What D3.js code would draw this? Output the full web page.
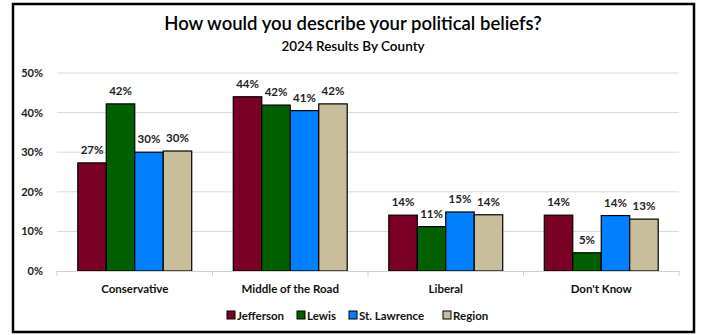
<!DOCTYPE html>
<html><head><meta charset="utf-8">
<script src="https://cdn.jsdelivr.net/npm/d3@7"></script>
<style>body{margin:0;background:#fff}svg{display:block}text{font-family:Lato,"Open Sans",sans-serif}</style>
</head><body><svg id="c" width="701" height="335"></svg>
<script>
const categories = ["Conservative","Middle of the Road","Liberal","Don't Know"];
const seriesNames = ["Jefferson","Lewis","St. Lawrence","Region"];
const jefferson = [27.3, 44.0, 14.1, 14.1];
const lewis = [42.2, 41.9, 11.2, 4.6];
const stLawrence = [30.0, 40.5, 14.9, 14.0];
const region = [30.3, 42.2, 14.2, 13.1];
const colors = ["#7a0026","#006000","#0080ff","#c8be9b"];
const yTicks = [0,10,20,30,40,50];

const values = [jefferson, lewis, stLawrence, region];
const svg = d3.select("#c");
svg.append("rect").attr("x",13).attr("y",4).attr("width",681).attr("height",328)
  .attr("fill","#fff").attr("stroke","#000").attr("stroke-width",2.5);

svg.append("text").attr("x",353).attr("y",30).attr("text-anchor","middle")
  .attr("font-size",18.5).attr("font-weight",600).attr("fill","#000").text("How would you describe your political beliefs?");
svg.append("text").attr("x",353).attr("y",51).attr("text-anchor","middle")
  .attr("font-size",13.5).attr("font-weight",600).attr("fill","#000").text("2024 Results By County");

const L=57,R=679,T=73,B=271;
const x = d3.scaleBand().domain(categories).range([L,R]).paddingInner(0).paddingOuter(0);
const x1 = d3.scaleBand().domain(seriesNames).range([0,x.bandwidth()]).paddingOuter(0.73).paddingInner(0);
const y = d3.scaleLinear().domain([0,50]).range([B,T]);

const g = svg.append("g");
g.selectAll("line.grid").data(yTicks.filter(d=>d>0)).join("line")
  .attr("x1",L).attr("x2",R).attr("y1",d=>y(d)).attr("y2",d=>y(d))
  .attr("stroke","#d9d9d9").attr("stroke-width",1);
g.selectAll("text.yt").data(yTicks).join("text")
  .attr("x",43).attr("y",d=>y(d)+4).attr("text-anchor","end")
  .attr("font-size",11).attr("font-weight",700).attr("fill","#222").text(d=>d+"%");

categories.forEach((c,ci)=>{
  seriesNames.forEach((s,si)=>{
    const v = values[si][ci];
    const bx = x(c)+x1(s);
    g.append("rect").attr("x",bx).attr("y",y(v)).attr("width",x1.bandwidth()).attr("height",B-y(v))
      .attr("fill",colors[si]).attr("stroke","#000").attr("stroke-width",1.2);
    g.append("text").attr("x",bx+x1.bandwidth()/2).attr("y",y(v)-9).attr("text-anchor","middle")
      .attr("font-size",11.5).attr("font-weight",700).attr("fill","#222").text(Math.round(v)+"%");
  });
  g.append("text").attr("x",x(c)+x.bandwidth()/2).attr("y",293).attr("text-anchor","middle")
    .attr("font-size",11.5).attr("font-weight",700).attr("fill","#111").text(c);
});
g.append("line").attr("x1",L).attr("x2",R).attr("y1",B+0.5).attr("y2",B+0.5).attr("stroke","#d0d0d0");
const bounds = [L].concat(categories.map(c=>x(c)+x.bandwidth()));
g.selectAll("line.tk").data(bounds).join("line")
  .attr("x1",d=>d).attr("x2",d=>d).attr("y1",B).attr("y2",B+5).attr("stroke","#d0d0d0");

const legX = [227,297,349,443];
seriesNames.forEach((s,i)=>{
  svg.append("rect").attr("x",legX[i]).attr("y",311).attr("width",8).attr("height",8)
    .attr("fill",colors[i]).attr("stroke","#000").attr("stroke-width",1);
  svg.append("text").attr("x",legX[i]+10).attr("y",319.5).attr("font-size",11.5)
    .attr("font-weight",700).attr("fill","#111").text(s);
});
</script></body></html>
